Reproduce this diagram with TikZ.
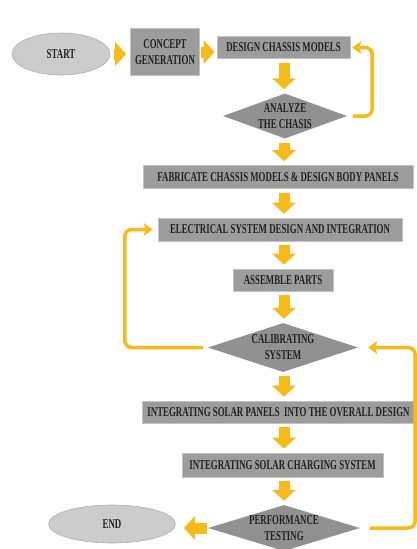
\documentclass[tikz,border=0pt]{standalone}
\usepackage{fontspec}
\newfontfamily\flw[FakeStretch=0.655]{Liberation Serif}
\usetikzlibrary{shapes.geometric,arrows.meta}
\tikzset{>=latex}
\definecolor{clb}{gray}{.61}
\definecolor{clbr}{gray}{.76}
\definecolor{cld}{gray}{.57}
\definecolor{cle}{gray}{.80}
\definecolor{cleo}{gray}{.68}
\definecolor{clt}{gray}{.13}
\definecolor{cla}{RGB}{246,187,26}
\tikzset{
    txt/.style={font=\flw\bfseries\fontsize{13.5}{16}\selectfont, text=clt, align=center},
    box/.style={txt, draw=clbr, fill=clb, line width=.6pt, inner sep=0pt},
    dmd/.style={diamond, fill=cld, inner sep=0pt},
    oval/.style={txt, ellipse, draw=cleo, fill=cle, line width=.6pt, inner sep=0pt},
    flow/.style={draw=cla, line width=11pt, -{Triangle[length=11pt, width=23pt]}, shorten <=4pt, shorten >=4pt},
    back/.style={draw=cla, line width=3.5pt, rounded corners=7pt, -{Stealth[length=9pt, width=13pt, inset=2pt]}}
}

\begin{document}
\begin{tikzpicture}[x=1pt, y=-1pt]
    \useasboundingbox(0, 0) rectangle (417, 549);
    \coordinate (col) at (284, 0);
    \node[oval, minimum width=98pt, minimum height=42pt](start) at (61, 54){START};
    \node[box, minimum width=69pt, minimum height=47pt](concept) at (165, 52){CONCEPT\\GENERATION};
    \node[box, minimum width=133pt, minimum height=22pt](design) at (283.5, 47.5){DESIGN CHASSIS MODELS};
    \node[dmd, minimum width=124pt, minimum height=45pt, label={[txt]center:{ANALYZE\\THE CHASIS}}](analyze) at (285, 116){};
    \node[box, minimum width=270pt, minimum height=23pt](fabricate) at (278, 177){FABRICATE CHASSIS MODELS \& DESIGN BODY PANELS};
    \node[box, minimum width=244pt, minimum height=23pt](electrical) at (280, 229.5){ELECTRICAL SYSTEM DESIGN AND INTEGRATION};
    \node[box, minimum width=100pt, minimum height=22pt](assemble) at (283, 280){ASSEMBLE PARTS};
    \node[dmd, minimum width=150pt, minimum height=49pt, label={[txt]center:{CALIBRATING\\SYSTEM}}](calibrating) at (283, 347.5){};
    \node[box, minimum width=273pt, minimum height=22pt](panels) at (278.5, 412){INTEGRATING SOLAR PANELS\ \ INTO THE OVERALL DESIGN};
    \node[box, minimum width=201pt, minimum height=24pt](charging) at (282.5, 465){INTEGRATING SOLAR CHARGING SYSTEM};
    \node[dmd, minimum width=152pt, minimum height=46pt, label={[txt]center:{PERFORMANCE\\TESTING}}](performance) at (284, 528){};
    \node[oval, minimum width=127pt, minimum height=38pt](end) at (112, 524){END};
    \draw[flow](start.east)--(concept.west |- start.east);
    \draw[flow, shorten <=1pt, shorten >=2pt](concept.east)--(design.west |- concept.east);
    \draw[flow](design.south -| col)--(analyze.north -| col);
    \draw[flow](analyze.south -| col)--(fabricate.north -| col);
    \draw[flow](fabricate.south -| col)--(electrical.north -| col);
    \draw[flow](electrical.south -| col)--(assemble.north -| col);
    \draw[flow](assemble.south -| col)--(calibrating.north -| col);
    \draw[flow](calibrating.south -| col)--(panels.north -| col);
    \draw[flow](panels.south -| col)--(charging.north -| col);
    \draw[flow](charging.south -| col)--(performance.north -| col);
    \draw[flow, shorten <=1pt, shorten >=8pt](performance.west)--(end.east |- performance.west);
    %\draw[back] loops
    \draw[back]([xshift=6pt]analyze.east)--++(19, 0)|-([xshift=2pt]design.east);
    \draw[back]([xshift=-5pt]calibrating.west)--++(-78, 0)|-([xshift=-5pt]electrical.west);
    \draw[back]([xshift=10pt]performance.east)--++(45, 0)|-([xshift=10pt]calibrating.east);
\end{tikzpicture}
\end{document}
